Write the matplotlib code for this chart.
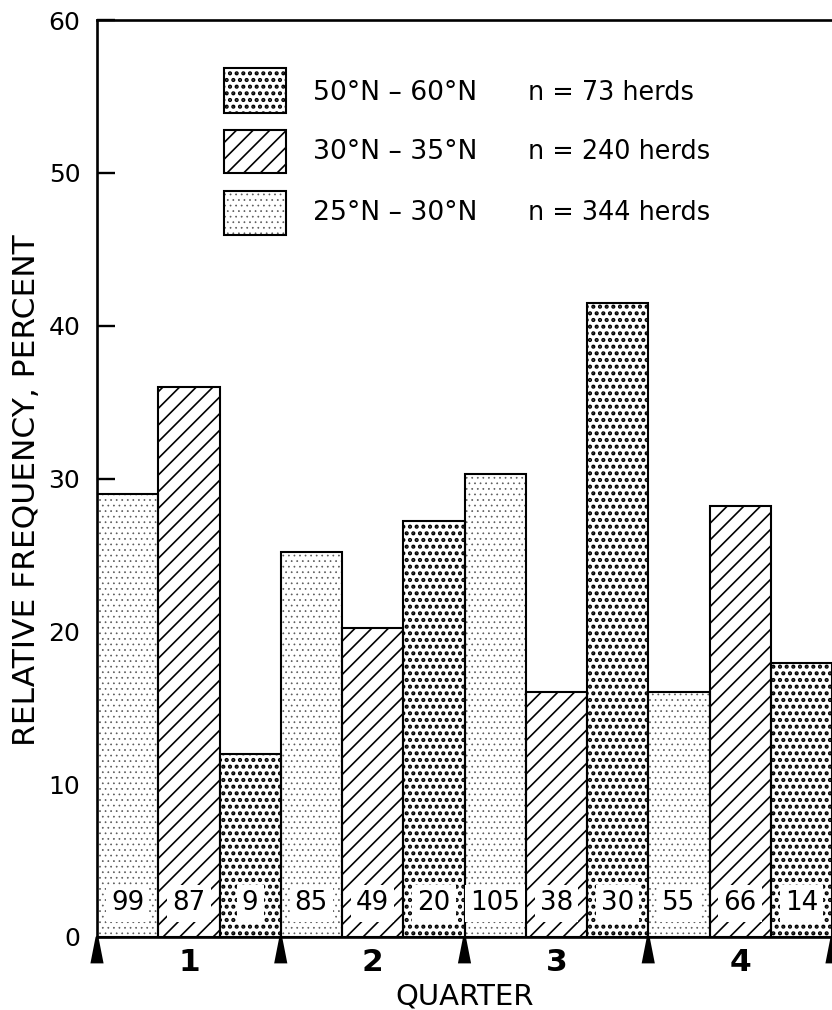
import matplotlib
matplotlib.use("Agg")
import matplotlib.pyplot as plt
from matplotlib.patches import Rectangle, Polygon
from matplotlib.transforms import blended_transform_factory

# canvas in pixels
W, H, DPI = 832, 1010, 200

# data
quarters = ["1", "2", "3", "4"]
bands = ["25°N – 30°N", "30°N – 35°N", "50°N – 60°N"]
herd_totals = ["n = 344 herds", "n = 240 herds", "n = 73 herds"]
freq_25_30 = [29.0, 25.2, 30.3, 16.0]
freq_30_35 = [36.0, 20.2, 16.0, 28.2]
freq_50_60 = [12.0, 27.2, 41.5, 17.9]
n_25_30 = [99, 85, 105, 55]
n_30_35 = [87, 49, 38, 66]
n_50_60 = [9, 20, 30, 14]
yticks = [0, 10, 20, 30, 40, 50, 60]

freqs = [freq_25_30, freq_30_35, freq_50_60]
counts = [n_25_30, n_30_35, n_50_60]

# fill style per band: (hatch, hatch colour, hatch linewidth)
styles = [
    ("......", "#5a5a5a", 0.25),
    ("////", "black", 0.6),
    (".....", "black", 1.0),
]

plt.rcParams["font.family"] = ["DejaVu Sans"]


def px(x, y):
    """pixel position (from top-left) -> figure fraction"""
    return x / W, 1 - y / H


def hatched_rect(ax_or_fig, xy, w, h, style, transform=None, bar=False):
    hatch, hc, hlw = style
    if bar:
        fill = ax_or_fig.bar(xy, h, width=w, color="white", edgecolor=hc,
                             linewidth=0, hatch=hatch, zorder=2)
        patches = list(fill)
        ax_or_fig.bar(xy, h, width=w, fill=False, edgecolor="black",
                      linewidth=0.75, zorder=3)
    else:
        p = Rectangle(xy, w, h, transform=transform, facecolor="white",
                      edgecolor=hc, linewidth=0, hatch=hatch)
        o = Rectangle(xy, w, h, transform=transform, fill=False,
                      edgecolor="black", linewidth=0.75)
        ax_or_fig.add_artist(p)
        ax_or_fig.add_artist(o)
        patches = [p]
    for p in patches:
        if hasattr(p, "set_hatch_linewidth"):
            p.set_hatch_linewidth(hlw)


fig = plt.figure(figsize=(W / DPI, H / DPI), dpi=DPI)
ax = fig.add_axes([97 / W, 73 / H, 735 / W, 917 / H])

for qi in range(len(quarters)):
    for bi in range(len(bands)):
        x = qi * 3 + bi + 0.5
        hatched_rect(ax, x, 1.0, freqs[bi][qi], styles[bi], bar=True)
        ax.text(x, 2.2, str(counts[bi][qi]), ha="center", va="center",
                fontsize=9.4, zorder=4,
                bbox=dict(boxstyle="square,pad=0.2", fc="white", ec="none"))

ax.set_xlim(0, 12)
ax.set_ylim(0, 60)
ax.set_yticks(yticks)
ax.tick_params(axis="y", direction="in", length=6.4, width=0.85, pad=6,
               labelsize=9)
ax.set_xticks([1.5, 4.5, 7.5, 10.5], quarters)
ax.tick_params(axis="x", length=0, pad=4.1, labelsize=11.25)
for t in ax.get_xticklabels():
    t.set_fontweight("bold")
ax.spines["right"].set_visible(False)
for s in ("left", "top", "bottom"):
    ax.spines[s].set_linewidth(0.95)

# quarter boundary markers below the axis
tri = blended_transform_factory(ax.transData, fig.transFigure)
y_top = 1 - 937 / H
y_bot = 1 - 962 / H
for qb in range(0, 13, 3):
    ax.add_patch(Polygon([(qb - 0.08, y_bot), (qb, y_top), (qb + 0.08, y_bot)],
                         closed=True, transform=tri, facecolor="black",
                         edgecolor="black", clip_on=False, zorder=5))

# legend drawn by hand
box_tops = [191, 130, 68]
box_h = [44, 43, 45]
text_y = [213, 152, 93]
for bi in range(len(bands)):
    x0, y0 = px(224, box_tops[bi] + box_h[bi])
    hatched_rect(fig, (x0, y0), 62 / W, box_h[bi] / H, styles[bi],
                 transform=fig.transFigure)
    fig.text(*px(313, text_y[bi]), bands[bi], ha="left", va="center",
             fontsize=9.6)
    fig.text(*px(528, text_y[bi]), herd_totals[bi], ha="left", va="center",
             fontsize=9.2)

fig.text(*px(27, 490), "RELATIVE FREQUENCY, PERCENT", rotation=90,
         ha="center", va="center", fontsize=11.25)
fig.text(*px(465, 996), "QUARTER", ha="center", va="center", fontsize=10.5)

fig.savefig("out.png", dpi=DPI)
